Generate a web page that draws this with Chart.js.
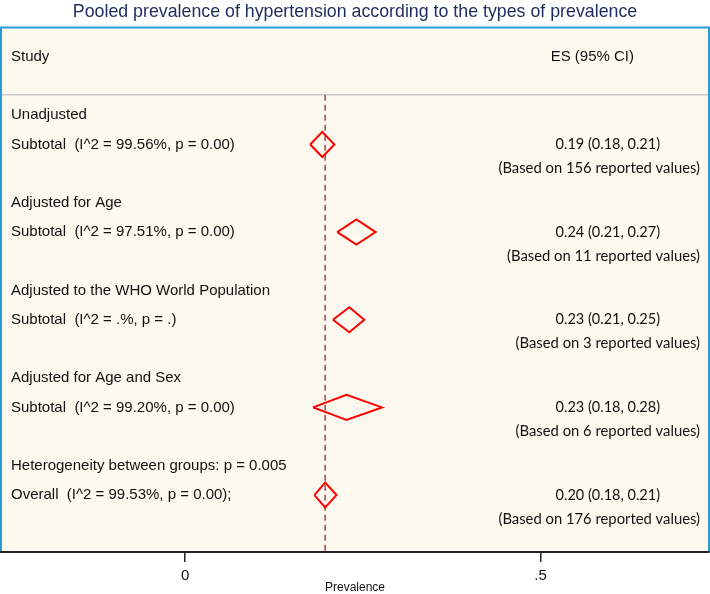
<!DOCTYPE html>
<html>
<head>
<meta charset="utf-8">
<script src="https://cdn.jsdelivr.net/npm/chart.js@4"></script>
<style>
  html, body { margin: 0; padding: 0; background: #ffffff; }
  #wrap { width: 710px; height: 594px; }
</style>
</head>
<body>
<div id="wrap"><canvas id="forestChart"></canvas></div>
<script>
// Datos del forest plot
const groupNames = ['Unadjusted', 'Adjusted for Age', 'Adjusted to the WHO World Population', 'Adjusted for Age and Sex', 'Overall'];
const groupHeadings = ['Unadjusted', 'Adjusted for Age', 'Adjusted to the WHO World Population', 'Adjusted for Age and Sex', 'Heterogeneity between groups: p = 0.005'];
const statsLabels = [
    'Subtotal  (I^2 = 99.56%, p = 0.00)',
    'Subtotal  (I^2 = 97.51%, p = 0.00)',
    'Subtotal  (I^2 = .%, p = .)',
    'Subtotal  (I^2 = 99.20%, p = 0.00)',
    'Overall  (I^2 = 99.53%, p = 0.00);'
];
// valores (sin redondear) y etiquetas impresas
const estimates = [0.193, 0.241, 0.231, 0.227, 0.197];
const lowerCI = [0.176, 0.214, 0.208, 0.180, 0.182];
const upperCI = [0.210, 0.268, 0.252, 0.277, 0.213];
const esLabels = ['0.19 (0.18, 0.21)', '0.24 (0.21, 0.27)', '0.23 (0.21, 0.25)', '0.23 (0.18, 0.28)', '0.20 (0.18, 0.21)'];
const reportedCounts = [156, 11, 3, 6, 176];
const tickValues = [0, 0.5];
const tickLabels = ['0', '.5'];

// Filas (en unidades de fila del eje y)
const headingRows = [3, 6, 9, 12, 15];
const summaryRows = [4, 7, 10, 13, 16];

const DIAMOND_HALF = 0.43;
const LEFT_FONT = '15px "Liberation Sans", Arial, sans-serif';
const ES_FONT = '14.5px Lato, "Open Sans", sans-serif';
const BASED_FONT = '14.8px Lato, "Open Sans", sans-serif';

const diamondDatasets = groupNames.map((name, i) => ({
    label: name,
    data: [
        { x: lowerCI[i], y: summaryRows[i] },
        { x: estimates[i], y: summaryRows[i] - DIAMOND_HALF },
        { x: upperCI[i], y: summaryRows[i] },
        { x: estimates[i], y: summaryRows[i] + DIAMOND_HALF },
        { x: lowerCI[i], y: summaryRows[i] }
    ],
    borderColor: '#ff0000',
    borderWidth: 2,
    pointRadius: 0,
    tension: 0,
    fill: false
}));

// Fondo, marco y línea de referencia
const panelPlugin = {
    id: 'panel',
    beforeDraw(chart) {
        const { ctx, chartArea: a, scales } = chart;
        ctx.save();
        ctx.fillStyle = '#fdf9ee';
        ctx.fillRect(a.left, a.top, a.right - a.left, a.bottom - a.top);

        // línea separadora del encabezado
        const sepY = scales.y.getPixelForValue(2.3);
        ctx.strokeStyle = '#c9c9c9';
        ctx.lineWidth = 1.5;
        ctx.beginPath();
        ctx.moveTo(a.left, sepY);
        ctx.lineTo(a.right, sepY);
        ctx.stroke();

        // línea punteada en la estimación global
        const refX = scales.x.getPixelForValue(estimates[estimates.length - 1]);
        ctx.strokeStyle = '#a8464f';
        ctx.setLineDash([6, 4]);
        ctx.beginPath();
        ctx.moveTo(refX, sepY);
        ctx.lineTo(refX, a.bottom);
        ctx.stroke();
        ctx.setLineDash([]);

        // marco azul
        ctx.strokeStyle = '#2a9bd5';
        ctx.lineWidth = 2;
        ctx.beginPath();
        ctx.moveTo(a.left, a.bottom);
        ctx.lineTo(a.left, a.top);
        ctx.lineTo(a.right, a.top);
        ctx.lineTo(a.right, a.bottom);
        ctx.stroke();
        ctx.restore();
    },
    afterDraw(chart) {
        const { ctx, chartArea: a, scales } = chart;
        const y = scales.y;
        ctx.save();
        ctx.fillStyle = '#111111';
        ctx.textBaseline = 'middle';

        ctx.font = LEFT_FONT;
        ctx.textAlign = 'left';
        ctx.fillText('Study', a.left + 10, y.getPixelForValue(1));
        ctx.textAlign = 'right';
        ctx.fillText('ES (95% CI)', 634, y.getPixelForValue(1));

        groupNames.forEach((name, i) => {
            ctx.font = LEFT_FONT;
            ctx.textAlign = 'left';
            ctx.fillText(groupHeadings[i], a.left + 10, y.getPixelForValue(headingRows[i]));
            ctx.fillText(statsLabels[i], a.left + 10, y.getPixelForValue(summaryRows[i]));

            ctx.textAlign = 'right';
            ctx.font = ES_FONT;
            ctx.fillText(esLabels[i], 660, y.getPixelForValue(summaryRows[i]));
            ctx.font = BASED_FONT;
            ctx.fillText('(Based on ' + reportedCounts[i] + ' reported values)', 700, y.getPixelForValue(summaryRows[i] + 0.82));
        });
        ctx.restore();
    }
};

new Chart(document.getElementById('forestChart'), {
    type: 'line',
    data: { datasets: diamondDatasets },
    plugins: [panelPlugin],
    options: {
        responsive: true,
        maintainAspectRatio: false,
        animation: false,
        layout: { padding: { left: 1, right: 1, top: 0, bottom: 0 } },
        plugins: {
            legend: { display: false },
            tooltip: { enabled: false },
            title: {
                display: true,
                text: 'Pooled prevalence of hypertension according to the types of prevalence',
                color: '#1e2b5e',
                font: { family: '"Liberation Sans", Arial, sans-serif', size: 17.8, weight: 'normal', lineHeight: 1.1 },
                padding: { top: 2, bottom: 6 }
            }
        },
        scales: {
            x: {
                type: 'linear',
                min: -0.259,
                max: 0.737,
                afterBuildTicks(axis) {
                    axis.ticks = tickValues.map(v => ({ value: v }));
                },
                afterFit(axis) {
                    axis.height = 42;
                },
                ticks: {
                    color: '#111111',
                    font: { family: '"Liberation Sans", Arial, sans-serif', size: 15, lineHeight: 1 },
                    padding: 6,
                    callback: (v) => tickLabels[tickValues.indexOf(v)]
                },
                grid: { drawOnChartArea: false, drawTicks: true, tickLength: 10, color: '#222222', lineWidth: 1.5 },
                border: { display: true, color: '#222222', width: 2 },
                title: {
                    display: true,
                    text: 'Prevalence',
                    color: '#111111',
                    font: { family: '"Liberation Sans", Arial, sans-serif', size: 12, lineHeight: 1 },
                    padding: { top: 2, bottom: 0 }
                }
            },
            y: {
                type: 'linear',
                display: false,
                reverse: true,
                min: 0,
                max: 17.95
            }
        }
    }
});
</script>
</body>
</html>
